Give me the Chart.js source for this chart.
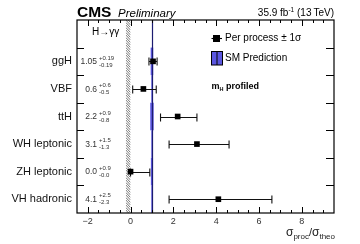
<!DOCTYPE html>
<html>
<head>
<meta charset="utf-8">
<script src="https://cdn.jsdelivr.net/npm/chart.js@4"></script>
<style>
  html, body { margin: 0; padding: 0; background: #fff; }
  #wrap { width: 360px; height: 244px; }
</style>
</head>
<body>
<div id="wrap"><canvas id="chart" width="360" height="244"></canvas></div>
<script>
// signal strength per production process
const processes = ['ggH', 'VBF', 'ttH', 'WH leptonic', 'ZH leptonic', 'VH hadronic'];
const mu = [1.05, 0.6, 2.2, 3.1, 0.0, 4.1];
const errUp = [0.19, 0.6, 0.9, 1.5, 0.9, 2.5];
const errDown = [0.19, 0.5, 0.8, 1.3, 0.0, 2.3];
const digits = [2, 1, 1, 1, 1, 1];
// theory uncertainty on the SM prediction (half width around 1)
const theoUnc = [0.06, 0.03, 0.08, 0.03, 0.05, 0.03];
const rowY = [5.5, 4.5, 3.5, 2.5, 1.5, 0.5];
const xTicks = [-2, 0, 2, 4, 6, 8];
const smValue = 1;
const hatchFrom = -0.22;

const FONT = '"Liberation Sans", Arial, Helvetica, sans-serif';

const decor = {
    id: 'decor',
    beforeDatasetsDraw(chart) {
        const { ctx, chartArea: a, scales: { x, y } } = chart;

        // hatched band left of zero
        const h0 = x.getPixelForValue(hatchFrom), h1 = x.getPixelForValue(0);
        ctx.save();
        ctx.beginPath();
        ctx.rect(h0, a.top, h1 - h0, a.bottom - a.top);
        ctx.clip();
        ctx.strokeStyle = '#666';
        ctx.lineWidth = 0.9;
        for (let yy = a.top - 10; yy < a.bottom + 10; yy += 2.5) {
            ctx.beginPath();
            ctx.moveTo(h0, yy);
            ctx.lineTo(h1, yy + 5);
            ctx.stroke();
        }
        ctx.restore();

        // SM prediction bands + line
        ctx.save();
        ctx.fillStyle = '#5b57e0';
        processes.forEach((p, i) => {
            const xl = x.getPixelForValue(smValue - theoUnc[i]);
            const xr = x.getPixelForValue(smValue + theoUnc[i]);
            const yt = y.getPixelForValue(rowY[i] + 0.5);
            const yb = y.getPixelForValue(rowY[i] - 0.5);
            ctx.fillRect(xl, yt, xr - xl, yb - yt);
        });
        const xs = Math.round(x.getPixelForValue(smValue)) + 0.5;
        ctx.strokeStyle = '#1c1c70';
        ctx.lineWidth = 1.2;
        ctx.beginPath();
        ctx.moveTo(xs, a.top);
        ctx.lineTo(xs, a.bottom);
        ctx.stroke();
        ctx.restore();

        // error bars
        ctx.save();
        ctx.strokeStyle = '#111';
        ctx.lineWidth = 1.1;
        processes.forEach((p, i) => {
            const yc = Math.round(y.getPixelForValue(rowY[i])) + 0.5;
            const xl = x.getPixelForValue(mu[i] - errDown[i]);
            const xr = x.getPixelForValue(mu[i] + errUp[i]);
            ctx.beginPath();
            ctx.moveTo(xl, yc); ctx.lineTo(xr, yc);
            ctx.moveTo(xl, yc - 4); ctx.lineTo(xl, yc + 4);
            ctx.moveTo(xr, yc - 4); ctx.lineTo(xr, yc + 4);
            ctx.stroke();
        });
        ctx.restore();
    },
    afterDraw(chart) {
        const { ctx, chartArea: a, scales: { x, y } } = chart;
        ctx.save();

        // frame
        ctx.strokeStyle = '#000';
        ctx.lineWidth = 1.2;
        ctx.strokeRect(a.left, a.top, a.right - a.left, a.bottom - a.top);

        // x ticks, inward on bottom and top
        ctx.lineWidth = 1;
        for (let v = -2.5; v <= 9.5; v += 0.5) {
            const px = Math.round(x.getPixelForValue(v)) + 0.5;
            if (px <= a.left + 1 || px >= a.right - 1) continue;
            const len = (v % 2 === 0) ? 6 : 3;
            ctx.beginPath();
            ctx.moveTo(px, a.bottom); ctx.lineTo(px, a.bottom - len);
            ctx.moveTo(px, a.top); ctx.lineTo(px, a.top + len);
            ctx.stroke();
        }
        // y ticks at row boundaries
        for (let r = 1; r <= 6; r++) {
            const py = Math.round(y.getPixelForValue(r)) + 0.5;
            ctx.beginPath();
            ctx.moveTo(a.left, py); ctx.lineTo(a.left + 7, py);
            ctx.moveTo(a.right, py); ctx.lineTo(a.right - 8, py);
            ctx.stroke();
        }

        // values with asymmetric errors
        ctx.fillStyle = '#333';
        processes.forEach((p, i) => {
            const yc = y.getPixelForValue(rowY[i]);
            ctx.font = '8.5px ' + FONT;
            ctx.textAlign = 'right';
            ctx.textBaseline = 'middle';
            ctx.fillText(mu[i].toFixed(digits[i]), 97, yc + 0.5);
            ctx.font = '6px ' + FONT;
            ctx.textAlign = 'left';
            ctx.fillText('+' + errUp[i].toFixed(digits[i]), 99, yc - 3.5);
            ctx.fillText('-' + errDown[i].toFixed(digits[i]), 99, yc + 3.5);
        });

        // header
        ctx.fillStyle = '#000';
        ctx.textBaseline = 'alphabetic';
        ctx.textAlign = 'left';
        ctx.font = 'bold 15.5px ' + FONT;
        ctx.fillText('CMS', 77, 16.5);
        ctx.font = 'italic 11.5px ' + FONT;
        ctx.fillText('Preliminary', 118, 16.5);
        ctx.textAlign = 'right';
        ctx.font = '10px ' + FONT;
        const tev = ' (13\u2009TeV)';
        const wTev = ctx.measureText(tev).width;
        ctx.fillText(tev, 334, 16);
        ctx.font = '6.5px ' + FONT;
        const wSup = ctx.measureText('-1').width;
        ctx.fillText('-1', 334 - wTev, 12);
        ctx.font = '10px ' + FONT;
        ctx.fillText('35.9 fb', 334 - wTev - wSup, 16);

        // channel label
        ctx.textAlign = 'left';
        ctx.font = '10px ' + FONT;
        ctx.fillText('H\u2192\u03b3\u03b3', 92, 35);

        // legend
        ctx.strokeStyle = '#000';
        ctx.lineWidth = 1.1;
        ctx.beginPath();
        ctx.moveTo(211.5, 38.5); ctx.lineTo(222, 38.5);
        ctx.stroke();
        ctx.fillRect(213, 35, 7, 7);
        ctx.font = '10px ' + FONT;
        ctx.textBaseline = 'middle';
        ctx.fillText('Per process \u00b1 1\u03c3', 225, 38.5);
        ctx.fillStyle = '#5b57e0';
        ctx.fillRect(211.5, 51.5, 11, 13.5);
        ctx.lineWidth = 1;
        ctx.strokeRect(211.5, 51.5, 11, 13.5);
        ctx.beginPath();
        ctx.moveTo(217, 51.5); ctx.lineTo(217, 65);
        ctx.stroke();
        ctx.fillStyle = '#000';
        ctx.fillText('SM Prediction', 225, 58.5);
        ctx.font = 'bold 9px ' + FONT;
        ctx.textBaseline = 'alphabetic';
        ctx.fillText('m', 211.5, 89);
        const wm = ctx.measureText('m').width;
        ctx.font = 'bold 5.5px ' + FONT;
        ctx.fillText('H', 211.5 + wm, 91);
        const wh = ctx.measureText('H').width;
        ctx.font = 'bold 9px ' + FONT;
        ctx.fillText(' profiled', 211.5 + wm + wh, 89);

        // x axis title sigma_proc / sigma_theo, right aligned
        const parts = [['\u03c3', 12, 0], ['proc', 8, 3], ['/', 11, 0], ['\u03c3', 12, 0], ['theo', 8, 3]];
        let tot = 0;
        parts.forEach(p => { ctx.font = p[1] + 'px ' + FONT; tot += ctx.measureText(p[0]).width; });
        let cx = 335 - tot;
        ctx.fillStyle = '#222';
        parts.forEach(p => {
            ctx.font = p[1] + 'px ' + FONT;
            ctx.fillText(p[0], cx, 236 + p[2]);
            cx += ctx.measureText(p[0]).width;
        });

        ctx.restore();
    }
};

new Chart(document.getElementById('chart'), {
    type: 'scatter',
    data: {
        datasets: [{
            label: 'Per process',
            data: processes.map((p, i) => ({ x: mu[i], y: rowY[i] })),
            pointStyle: 'rect',
            pointRadius: 4,
            pointHoverRadius: 4,
            backgroundColor: '#000',
            borderColor: '#000',
            borderWidth: 0
        }]
    },
    options: {
        responsive: false,
        animation: false,
        devicePixelRatio: 1,
        layout: { padding: { left: 0, right: 26, top: 20, bottom: 0 } },
        plugins: {
            legend: { display: false },
            tooltip: { enabled: false }
        },
        scales: {
            x: {
                type: 'linear',
                min: -2.5,
                max: 9.5,
                afterBuildTicks: (scale) => { scale.ticks = xTicks.map(v => ({ value: v })); },
                afterFit: (scale) => { scale.height = 31; },
                grid: { display: false, drawTicks: false },
                border: { display: false },
                ticks: {
                    padding: 3,
                    color: '#333',
                    font: { family: FONT, size: 9 },
                    callback: (v) => (v < 0 ? '\u2212' + Math.abs(v) : String(v))
                }
            },
            y: {
                type: 'linear',
                min: 0,
                max: 7,
                afterBuildTicks: (scale) => { scale.ticks = rowY.map(v => ({ value: v })); },
                afterFit: (scale) => { scale.width = 77; },
                grid: { display: false, drawTicks: false },
                border: { display: false },
                ticks: {
                    padding: 5,
                    color: '#111',
                    font: { family: FONT, size: 11 },
                    callback: (v) => processes[rowY.indexOf(v)]
                }
            }
        }
    },
    plugins: [decor]
});
</script>
</body>
</html>
